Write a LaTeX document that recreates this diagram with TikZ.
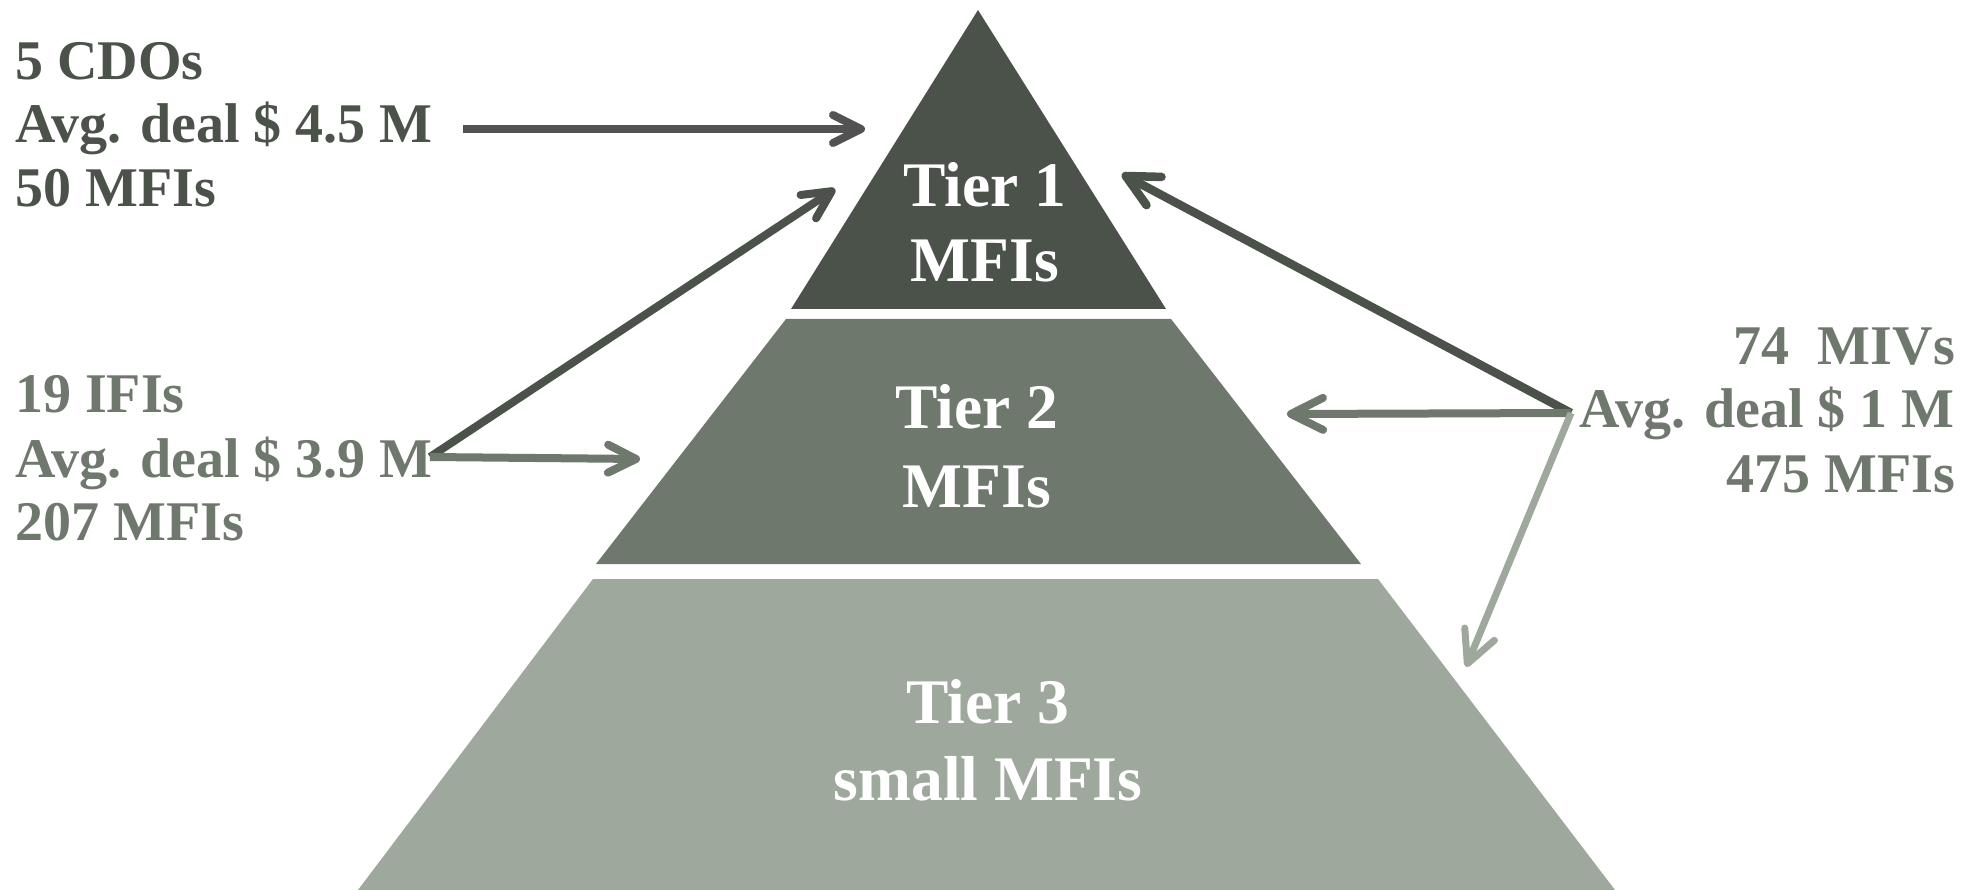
\documentclass[tikz,border=0pt]{standalone}
\usepackage{fontspec}
\setmainfont{Liberation Serif}
\usetikzlibrary{arrows.meta}
\definecolor{tdark}{RGB}{74,82,73}
\definecolor{tmid}{RGB}{110,120,109}
\definecolor{tlight}{RGB}{158,168,157}
\definecolor{agray}{RGB}{82,82,82}
\begin{document}
\begin{tikzpicture}[x=1pt,y=-1pt,
  lbl/.style={inner sep=0pt, font=\fontsize{56}{62}\selectfont\bfseries},
  tierlbl/.style={inner sep=0pt, text=white, anchor=base, font=\fontsize{63.5}{70}\selectfont\bfseries},
  arr/.style={line width=#1, -{Straight Barb[length=28pt,width=28pt,round]}},
  bigarr/.style={line width=#1, -{Straight Barb[length=32pt,width=32pt,round]}},
]
\useasboundingbox (0,0) rectangle (1963,890);
% pyramid tiers
\fill[tdark]  (978,10) -- (1166,309) -- (791,309) -- cycle;
\fill[tmid]   (786,319) -- (1171,319) -- (1361,564) -- (596,564) -- cycle;
\fill[tlight] (593,579) -- (1378,579) -- (1615,890) -- (358,890) -- cycle;
% tier labels
\node[tierlbl] (t1a) at (985,207) {Tier 1};
\node[tierlbl] (t1b) at (985,282) {MFIs};
\node[tierlbl] (t2a) at (977,429) {Tier 2};
\node[tierlbl] (t2b) at (977,507) {MFIs};
\node[tierlbl] (t3a) at (988,723) {Tier 3};
\node[tierlbl] (t3b) at (988,800) {small MFIs};
% left block 1
\node[lbl, text=tdark, anchor=base west] (cdoA) at (15,80) {5 CDOs};
\node[lbl, text=tdark, anchor=base west] (cdoB) at (15,143) {Avg. deal \$ 4.5 M};
\node[lbl, text=tdark, anchor=base west] (cdoC) at (15,207) {50 MFIs};
% left block 2
\node[lbl, text=tmid, anchor=base west] (ifiA) at (15,413) {19 IFIs};
\node[lbl, text=tmid, anchor=base west] (ifiB) at (15,477) {Avg. deal \$ 3.9 M};
\node[lbl, text=tmid, anchor=base west] (ifiC) at (15,540) {207 MFIs};
% right block
\node[lbl, text=tmid, anchor=base east] (mivA) at (1955,365) {74\ \ MIVs};
\node[lbl, text=tmid, anchor=base east] (mivB) at (1955,428) {Avg. deal \$ 1 M};
\node[lbl, text=tmid, anchor=base east] (mivC) at (1955,492) {475 MFIs};
% connector end points
\coordinate (cdoout) at (463,129);
\coordinate (cdoin) at (865,129);
\coordinate (ifiout) at (430,457);
\coordinate (ifitop) at (835,189);
\coordinate (ifimid) at (640,459);
\coordinate (mivout) at (1571,413);
\coordinate (mivtop) at (1122,174);
\coordinate (mivmid) at (1287,414);
\coordinate (mivlow) at (1466,667);
% connectors
\draw[arr=8pt, agray] (cdoout) -- (cdoin);
\draw[arr=8pt, tdark] (ifiout) -- (ifitop);
\draw[arr=8pt, tmid] (ifiout) -- (ifimid);
\draw[bigarr=8.5pt, tdark] (mivout) -- (mivtop);
\draw[bigarr=8pt, tmid] (mivout) -- (mivmid);
\draw[bigarr=7pt, tlight] (mivout) -- (mivlow);
\end{tikzpicture}
\end{document}
